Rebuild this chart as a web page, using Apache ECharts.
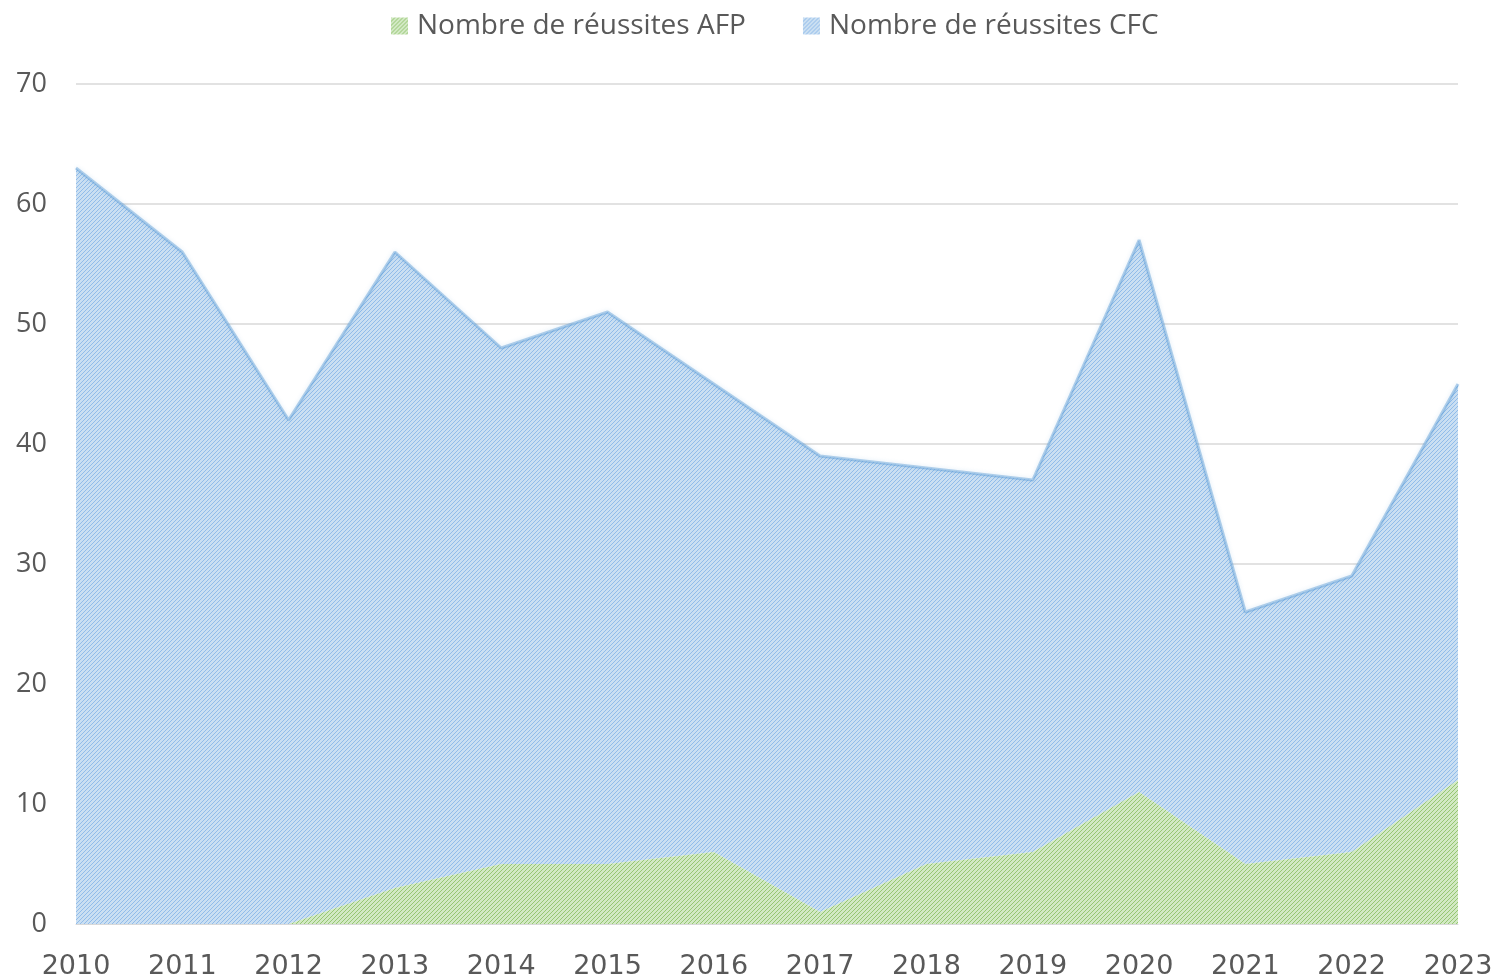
<!DOCTYPE html>
<html>
<head>
<meta charset="utf-8">
<script src="https://cdn.jsdelivr.net/npm/echarts@6/dist/echarts.min.js"></script>
<style>
html,body{margin:0;padding:0;background:#fff;}
#chart{width:1497px;height:980px;}
</style>
</head>
<body>
<div id="chart"></div>
<script>
const years = ['2010','2011','2012','2013','2014','2015','2016','2017','2018','2019','2020','2021','2022','2023'];
const afp = [0,0,0,3,5,5,6,1,5,6,11,5,6,12];
const cfc = [63,56,42,53,43,46,39,38,33,31,46,21,23,33];
const yTicks = [0,10,20,30,40,50,60,70];

function makePattern(bg, fg) {
  const c = document.createElement('canvas');
  c.width = 4; c.height = 4;
  const ctx = c.getContext('2d');
  ctx.fillStyle = bg; ctx.fillRect(0,0,4,4);
  ctx.fillStyle = fg;
  for (let i = 0; i < 4; i++) { ctx.fillRect(i, 3 - i, 1, 1); }
  return c;
}
const bluePat = {image: makePattern('rgb(202,223,242)', 'rgb(145,188,234)'), repeat: 'repeat'};
const greenPat = {image: makePattern('rgb(210,233,196)', 'rgb(150,198,115)'), repeat: 'repeat'};

const chart = echarts.init(document.getElementById('chart'));
chart.setOption({
  animation: false,
  legend: {
    top: 7,
    left: 386,
    itemWidth: 17,
    itemHeight: 17,
    itemGap: 57,
    icon: 'rect',
    textStyle: {fontFamily: 'Open Sans', fontSize: 28, color: '#595959', padding: [0, 0, 0, 4]},
    data: ['Nombre de réussites AFP', 'Nombre de réussites CFC']
  },
  grid: {left: 76, right: 39, top: 84, bottom: 56, containLabel: false},
  xAxis: {
    type: 'category',
    data: years,
    boundaryGap: false,
    axisLine: {show: true, lineStyle: {color: '#D9D9D9', width: 1}},
    axisTick: {show: false},
    axisLabel: {fontFamily: 'DejaVu Sans', fontSize: 27, color: '#595959', margin: 29}
  },
  yAxis: {
    type: 'value',
    min: 0, max: 70, interval: 10,
    axisLine: {show: false},
    axisTick: {show: false},
    splitLine: {lineStyle: {color: '#D9D9D9', width: 1.5}},
    axisLabel: {fontFamily: 'Open Sans', fontSize: 27, color: '#595959', margin: 29,
      formatter: v => yTicks.includes(v) ? String(v) : ''}
  },
  series: [
    {
      name: 'Nombre de réussites AFP',
      type: 'line',
      stack: 'total',
      data: afp,
      symbol: 'none',
      lineStyle: {width: 0},
      itemStyle: {color: greenPat},
      areaStyle: {color: greenPat, opacity: 1},
      z: 3
    },
    {
      name: 'Nombre de réussites CFC',
      type: 'line',
      stack: 'total',
      data: cfc,
      symbol: 'none',
      lineStyle: {width: 3, color: 'rgba(91,155,213,0.45)', shadowBlur: 4, shadowColor: 'rgba(91,155,213,0.4)'},
      itemStyle: {color: bluePat},
      areaStyle: {color: bluePat, opacity: 1},
      z: 2
    }
  ]
});
</script>
</body>
</html>
